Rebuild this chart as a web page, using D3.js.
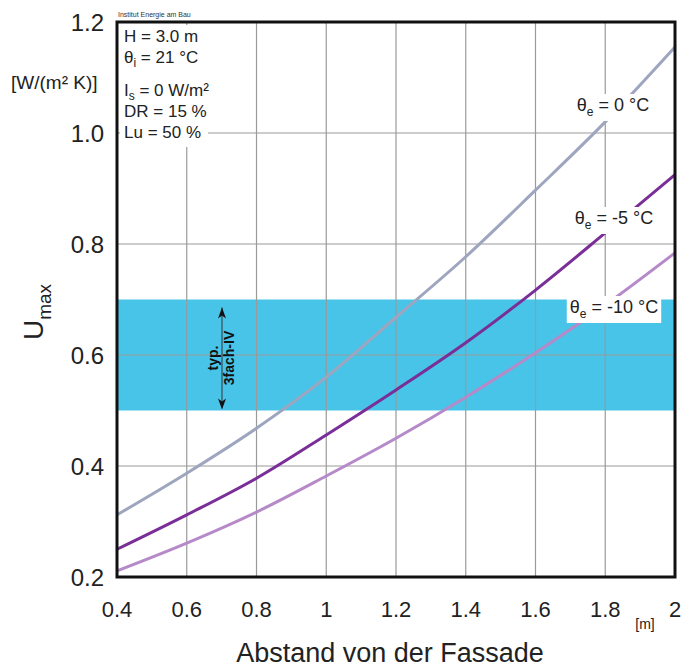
<!DOCTYPE html>
<html><head><meta charset="utf-8">
<script src="https://cdn.jsdelivr.net/npm/d3@7"></script>
<style>body{margin:0;background:#fff;font-family:"Liberation Sans",Arial,sans-serif;}</style>
</head><body><svg id="c" width="697" height="668"></svg>
<script>
const distances = [0.4,0.6,0.8,1.0,1.2,1.4,1.6,1.8,2.0];
const u0 = [0.312,0.387,0.468,0.560,0.668,0.777,0.897,1.020,1.155];
const uMinus5 = [0.250,0.312,0.378,0.456,0.537,0.622,0.717,0.820,0.925];
const uMinus10 = [0.211,0.261,0.317,0.382,0.450,0.524,0.604,0.690,0.784];
const xTicks = [0.4,0.6,0.8,1,1.2,1.4,1.6,1.8,2];
const yTicks = [0.2,0.4,0.6,0.8,1.0,1.2];
const band = [0.5,0.7];
const seriesNames = ["0","-5","-10"];
const params = [["H = 3.0 m"],["θ","i"," = 21 °C"],["I","s"," = 0 W/m²"],["DR = 15 %"],["Lu = 50 %"]];

const svg = d3.select("#c");
const L=117,R=675,T=22,B=577;
const x = d3.scaleLinear().domain([0.4,2]).range([L,R]);
const y = d3.scaleLinear().domain([0.2,1.2]).range([B,T]);
const font = "'Liberation Sans',Arial,sans-serif";

// band
svg.append("rect").attr("x",L).attr("width",R-L).attr("y",y(band[1])).attr("height",y(band[0])-y(band[1])).attr("fill","#48c4e8");

// grid
svg.append("g").selectAll("line").data(xTicks.slice(1,-1)).join("line")
 .attr("x1",d=>x(d)).attr("x2",d=>x(d)).attr("y1",T).attr("y2",B).attr("stroke","#9a9a9a").attr("stroke-width",1.2);
svg.append("g").selectAll("line").data(yTicks.slice(1,-1)).join("line")
 .attr("x1",L).attr("x2",R).attr("y1",d=>y(d)).attr("y2",d=>y(d)).attr("stroke","#9a9a9a").attr("stroke-width",1.2);

// curves
const line = d3.line().x((d,i)=>x(distances[i])).y(d=>y(d)).curve(d3.curveMonotoneX);
const series = [{v:u0,c:"#9ea5bf"},{v:uMinus5,c:"#7a2e98"},{v:uMinus10,c:"#b68ac9"}];
svg.append("g").selectAll("path").data(series).join("path")
 .attr("d",d=>line(d.v)).attr("fill","none").attr("stroke",d=>d.c).attr("stroke-width",3);

// parameter box text
const pg = svg.append("g");
pg.append("rect").attr("x",L+3).attr("y",T+3).attr("width",88).attr("height",122).attr("fill","#fff");
const py=[42,63,96,117,138];
params.forEach((p,i)=>{
  const t=pg.append("text").attr("x",124).attr("y",py[i]).attr("font-size",17).attr("font-family",font).attr("fill","#222");
  if(p.length===1) t.text(p[0]);
  else { t.append("tspan").text(p[0]); t.append("tspan").attr("font-size",12).attr("dy",4).text(p[1]); t.append("tspan").attr("dy",-4).text(p[2]); }
});

// series labels
const labels=[{n:seriesNames[0],cx:613,cy:105},{n:seriesNames[1],cx:614,cy:218},{n:seriesNames[2],cx:614,cy:307}];
labels.forEach(l=>{
  const g=svg.append("g");
  const t=g.append("text").attr("x",l.cx).attr("y",l.cy+6).attr("text-anchor","middle").attr("font-size",18).attr("font-family",font).attr("fill","#222");
  t.append("tspan").text("θ"); t.append("tspan").attr("font-size",12).attr("dy",5).text("e"); t.append("tspan").attr("dy",-5).text(" = "+l.n+" °C");
  const bb=t.node().getBBox();
  g.insert("rect","text").attr("x",bb.x-3).attr("y",bb.y-1).attr("width",bb.width+6).attr("height",bb.height+3).attr("fill","#fff");
});

// arrow annotation
const ax=222;
svg.append("line").attr("x1",ax).attr("x2",ax).attr("y1",y(band[1])+8).attr("y2",y(band[0])-3).attr("stroke","#333").attr("stroke-width",1);
const arrow=(yy,dir)=>svg.append("path").attr("d",`M${ax},${yy} L${ax-4},${yy+dir*11} L${ax},${yy+dir*8} L${ax+4},${yy+dir*11} Z`).attr("fill","#111");
arrow(y(band[1])+8,1); arrow(y(band[0])-1,-1);
const ann=svg.append("g").attr("transform",`translate(${ax},${(y(band[0])+y(band[1]))/2+3}) rotate(-90)`);
ann.append("text").attr("x",0).attr("y",-4).attr("text-anchor","middle").attr("font-size",14).attr("font-weight","bold").attr("font-family",font).attr("fill","#111").text("typ.");
ann.append("text").attr("x",0).attr("y",12).attr("text-anchor","middle").attr("font-size",14).attr("font-weight","bold").attr("font-family",font).attr("fill","#111").text("3fach-IV");

// frame
svg.append("rect").attr("x",L).attr("y",T).attr("width",R-L).attr("height",B-T).attr("fill","none").attr("stroke","#111").attr("stroke-width",3);

// axes tick labels
svg.append("g").selectAll("text").data(xTicks).join("text")
 .attr("x",d=>x(d)).attr("y",617).attr("text-anchor","middle").attr("font-size",22).attr("font-family",font).attr("fill","#222")
 .text(d=>d3.format("~g")(d));
svg.append("g").selectAll("text").data(yTicks).join("text")
 .attr("x",104).attr("y",d=>y(d)+9).attr("text-anchor","end").attr("font-size",24).attr("font-family",font).attr("fill","#222")
 .text(d=>d3.format(".1f")(d));

// units
svg.append("text").attr("x",11).attr("y",89).attr("font-size",19).attr("font-family",font).attr("fill","#222").text("[W/(m² K)]");
svg.append("text").attr("x",645).attr("y",629).attr("text-anchor","middle").attr("font-size",14).attr("font-family",font).attr("fill","#222").text("[m]");
svg.append("text").attr("x",390).attr("y",662).attr("text-anchor","middle").attr("font-size",27).attr("font-family",font).attr("fill","#222").text("Abstand von der Fassade");
const yl=svg.append("text").attr("transform","translate(43,312) rotate(-90)").attr("text-anchor","middle").attr("font-size",28).attr("font-family",font).attr("fill","#222");
yl.append("tspan").text("U"); yl.append("tspan").attr("font-size",19).attr("dy",8).text("max");

// institute
svg.append("text").attr("x",118).attr("y",17).attr("font-size",7).attr("font-family",font).attr("fill","#333").text("Institut Energie am Bau");
</script></body></html>
